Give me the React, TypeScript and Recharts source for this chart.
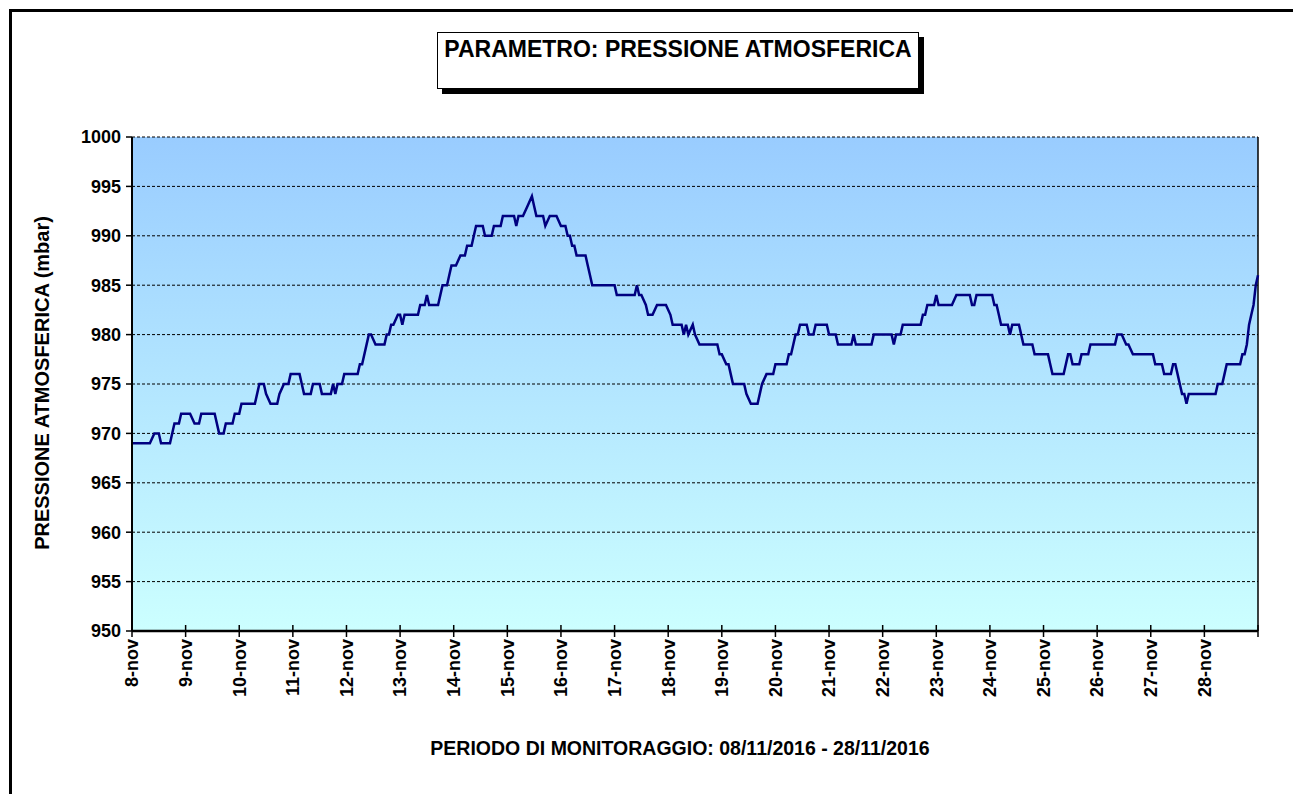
import { LineChart, Line, XAxis, YAxis, CartesianGrid, ReferenceLine } from 'recharts';

// hours from 08/11 00:00, corners of the hourly trace
const hours = [
  0, 8, 10, 12, 13, 17, 19, 21, 22, 26, 28, 30, 31, 37, 39, 41, 42, 45, 46, 48,
  49, 55, 56, 57, 59, 60, 62, 65, 66, 68, 70, 71, 75, 76, 77, 80, 81, 84, 85, 89,
  90, 91, 92, 94, 95, 101, 102, 103, 106, 107, 109, 113, 114, 115, 116, 117, 119, 120, 121, 122,
  128, 129, 131, 132, 133, 137, 139, 141, 142, 143, 145, 147, 149, 150, 152, 153, 154, 157, 158, 161,
  162, 165, 166, 171, 172, 173, 175, 177, 179, 180, 181, 184, 185, 187, 190, 192, 194, 195, 196, 197,
  198, 199, 203, 204, 205, 206, 216, 217, 225, 226, 227, 228, 230, 231, 233, 235, 239, 241, 242, 246,
  247, 248, 249, 251, 252, 254, 262, 263, 264, 266, 267, 268, 269, 274, 275, 277, 280, 281, 282, 284,
  287, 288, 293, 294, 295, 296, 297, 298, 299, 302, 303, 305, 306, 311, 312, 315, 316, 322, 323, 324,
  331, 332, 340, 341, 342, 344, 345, 353, 354, 355, 356, 359, 360, 361, 367, 369, 375, 376, 377, 378,
  385, 386, 387, 388, 389, 392, 393, 394, 397, 398, 399, 403, 404, 410, 411, 412, 417, 418, 419, 420,
  421, 424, 425, 428, 429, 440, 441, 443, 445, 446, 448, 457, 458, 461, 462, 465, 466, 467, 468, 469,
  470, 471, 472, 473, 485, 486, 488, 489, 490, 496, 497, 498, 499, 500, 501, 502, 503, 504,
];
const pressure = [
  969, 969, 970, 970, 969, 969, 971, 971, 972, 972, 971, 971, 972, 972, 970, 970, 971, 971, 972, 972,
  973, 973, 974, 975, 975, 974, 973, 973, 974, 975, 975, 976, 976, 975, 974, 974, 975, 975, 974, 974,
  975, 974, 975, 975, 976, 976, 977, 977, 980, 980, 979, 979, 980, 980, 981, 981, 982, 982, 981, 982,
  982, 983, 983, 984, 983, 983, 985, 985, 986, 987, 987, 988, 988, 989, 989, 990, 991, 991, 990, 990,
  991, 991, 992, 992, 991, 992, 992, 993, 994, 993, 992, 992, 991, 992, 992, 991, 991, 990, 990, 989,
  989, 988, 988, 987, 986, 985, 985, 984, 984, 985, 984, 984, 983, 982, 982, 983, 983, 982, 981, 981,
  980, 981, 980, 981, 980, 979, 979, 978, 978, 977, 977, 976, 975, 975, 974, 973, 973, 974, 975, 976,
  976, 977, 977, 978, 978, 979, 980, 980, 981, 981, 980, 980, 981, 981, 980, 980, 979, 979, 980, 979,
  979, 980, 980, 979, 980, 980, 981, 981, 982, 982, 983, 983, 984, 983, 983, 984, 984, 983, 983, 984,
  984, 983, 983, 982, 981, 981, 980, 981, 981, 980, 979, 979, 978, 978, 977, 976, 976, 977, 978, 978,
  977, 977, 978, 978, 979, 979, 980, 980, 979, 979, 978, 978, 977, 977, 976, 976, 977, 977, 976, 975,
  974, 974, 973, 974, 974, 975, 975, 976, 977, 977, 978, 978, 979, 981, 982, 983, 985, 986,
];
const dayLabels = [
  '8-nov', '9-nov', '10-nov', '11-nov', '12-nov', '13-nov', '14-nov', '15-nov', '16-nov', '17-nov', '18-nov',
  '19-nov', '20-nov', '21-nov', '22-nov', '23-nov', '24-nov', '25-nov', '26-nov', '27-nov', '28-nov',
];
const yTicks = [950, 955, 960, 965, 970, 975, 980, 985, 990, 995, 1000];

const data = hours.map((h, i) => ({ h, p: pressure[i] }));
const dayTicks = [...dayLabels.map((_, i) => i * 24), dayLabels.length * 24];

const FONT = '"Liberation Sans", Arial, sans-serif';

function DayTick(props: any) {
  const { x, y, payload } = props;
  const label = dayLabels[payload.value / 24] ?? '';
  return (
    <g>
      <line x1={x} x2={x} y1={y - 6} y2={y + 6} stroke="#000" strokeWidth={1.5} />
      {label && (
        <text
          x={0}
          y={0}
          transform={`translate(${x}, ${y + 8}) rotate(-90)`}
          textAnchor="end"
          dy="0.35em"
          fontSize={18}
          fontWeight="bold"
          fontFamily={FONT}
          fill="#000"
        >
          {label}
        </text>
      )}
    </g>
  );
}

export default function App() {
  return (
    <div
      style={{
        position: 'absolute',
        left: 0,
        top: 0,
        width: 1293,
        height: 794,
        overflow: 'hidden',
        background: '#fff',
        fontFamily: FONT,
      }}
    >
      {/* outer frame, right/bottom sides fall outside the picture */}
      <div
        style={{
          position: 'absolute',
          left: 9,
          top: 9,
          width: 1320,
          height: 820,
          border: '3px solid #000',
        }}
      />

      {/* title box with drop shadow */}
      <div
        style={{
          position: 'absolute',
          left: 437,
          top: 32,
          width: 482,
          height: 57,
          border: '1.5px solid #000',
          background: '#fff',
          boxShadow: '5px 5px 0 #000',
          boxSizing: 'border-box',
          textAlign: 'center',
          fontSize: 23,
          fontWeight: 'bold',
          lineHeight: '28px',
          paddingTop: 2,
        }}
      >
        PARAMETRO: PRESSIONE ATMOSFERICA
      </div>

      <div style={{ position: 'absolute', left: 0, top: 0 }}>
        <LineChart
          width={1293}
          height={794}
          data={data}
          margin={{ top: 137, right: 35, bottom: 103, left: 72 }}
        >
          <defs>
            <linearGradient id="plotBg" x1="0" y1="0" x2="0" y2="1">
              <stop offset="0%" stopColor="#99CCFF" />
              <stop offset="100%" stopColor="#CCFFFF" />
            </linearGradient>
          </defs>
          <CartesianGrid
            vertical={false}
            stroke="#000"
            strokeDasharray="3 2"
            fill="url(#plotBg)"
          />
          <XAxis
            dataKey="h"
            type="number"
            domain={[0, 504]}
            ticks={dayTicks}
            interval={0}
            height={60}
            tickSize={0}
            tickMargin={0}
            tickLine={false}
            axisLine={{ stroke: '#000', strokeWidth: 2.5 }}
            tick={<DayTick />}
          />
          <YAxis
            domain={[950, 1000]}
            ticks={yTicks}
            interval={0}
            width={60}
            tickSize={6}
            tickMargin={5}
            tickLine={{ stroke: '#000', strokeWidth: 1.5 }}
            axisLine={{ stroke: '#000', strokeWidth: 2 }}
            tick={{ fill: '#000', fontSize: 18, fontWeight: 'bold', fontFamily: FONT }}
          />
          <ReferenceLine x={504} stroke="#000" strokeWidth={1.5} />
          <Line
            type="linear"
            dataKey="p"
            stroke="#000080"
            strokeWidth={2.5}
            dot={false}
            activeDot={false}
            isAnimationActive={false}
          />
        </LineChart>
      </div>

      {/* y-axis title */}
      <div
        style={{
          position: 'absolute',
          left: 42,
          top: 383,
          transform: 'translate(-50%, -50%) rotate(-90deg)',
          whiteSpace: 'nowrap',
          fontSize: 20,
          fontWeight: 'bold',
        }}
      >
        PRESSIONE ATMOSFERICA (mbar)
      </div>

      {/* x-axis title */}
      <div
        style={{
          position: 'absolute',
          left: 680,
          top: 748,
          transform: 'translate(-50%, -50%)',
          whiteSpace: 'nowrap',
          fontSize: 19.5,
          fontWeight: 'bold',
        }}
      >
        PERIODO DI MONITORAGGIO: 08/11/2016 - 28/11/2016
      </div>
    </div>
  );
}
